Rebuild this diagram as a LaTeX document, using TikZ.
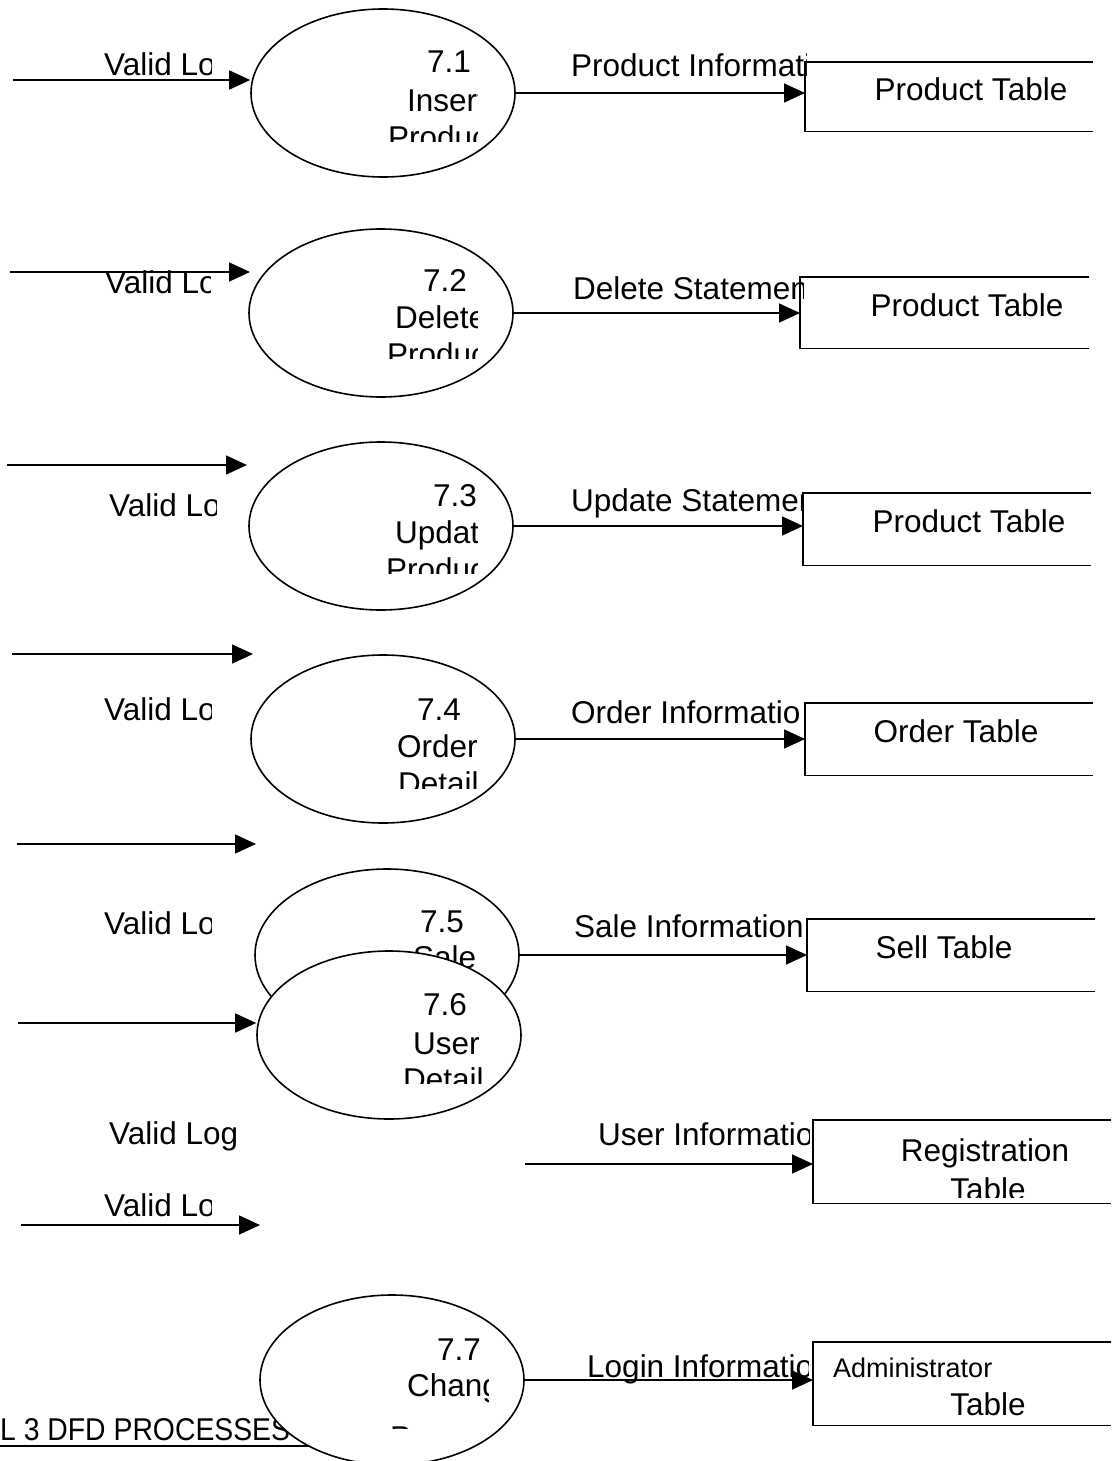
\documentclass[tikz,border=0pt]{standalone}
\usepackage{fontspec}
\setmainfont{Liberation Sans}
\usetikzlibrary{arrows.meta,shapes.geometric}
\tikzset{
  flow/.style={line width=1.6pt, -{Triangle[length=21pt,width=19pt]}},
  proc/.style={ellipse, draw, line width=1.6pt, fill=white, minimum width=264pt, minimum height=168pt, inner sep=0pt},
  txt/.style={inner sep=0pt, font=\fontsize{31.5}{38}\selectfont},
  smalltxt/.style={inner sep=0pt, font=\fontsize{27}{32}\selectfont},
  storebox/.style={rectangle, draw=none, inner sep=0pt, anchor=north west},
  storeline/.style={line width=1.6pt},
}
\newcommand{\ctxt}[7][txt]{\begin{scope}\clip (#3-30,#4-45) rectangle (#6,#7);\node[#1,anchor=base west] (#2) at (#3,#4) {#5};\end{scope}}
\begin{document}
\begin{tikzpicture}[x=1pt,y=-1pt]
\useasboundingbox (0,0) rectangle (1111,1461);
\fill[white] (0,0) rectangle (1111,1461);

% caption
\node[txt, anchor=base west] (caption) at (0,1440) {\scalebox{0.9}[1]{L 3 DFD PROCESSES}};
\draw[line width=1.3pt] (0,1446) -- (330,1446);

% data stores
\node[storebox, minimum width=288pt, minimum height=69pt] (s1) at (805,62) {};
\node[storebox, minimum width=289pt, minimum height=71pt] (s2) at (800,277) {};
\node[storebox, minimum width=288pt, minimum height=72pt] (s3) at (803,493) {};
\node[storebox, minimum width=288pt, minimum height=72pt] (s4) at (805,703) {};
\node[storebox, minimum width=288pt, minimum height=72pt] (s5) at (807,919) {};
\node[storebox, minimum width=298pt, minimum height=83pt] (s6) at (813,1120) {};
\node[storebox, minimum width=298pt, minimum height=83pt] (s7) at (813,1342) {};
\foreach \s in {s1,s2,s3,s4,s5,s6,s7}
  \draw[storeline] (\s.north east) -- (\s.north west) -- (\s.south west) -- (\s.south east);

\node[txt, anchor=base] (t1) at (971,101) {Product Table};
\node[txt, anchor=base] (t2) at (967,316) {Product Table};
\node[txt, anchor=base] (t3) at (969,532) {Product Table};
\node[txt, anchor=base] (t4) at (956,742) {Order Table};
\node[txt, anchor=base] (t5) at (944,958) {Sell Table};
\node[txt, anchor=base] (t6a) at (985,1161) {Registration};
\begin{scope}\clip (820,1170) rectangle (1111,1197);
\node[txt, anchor=base] (t6b) at (988,1200) {Table};
\end{scope}
\node[smalltxt, anchor=base west] (t7a) at (833,1377) {Administrator};
\node[txt, anchor=base] (t7b) at (988,1415) {Table};

% left flows
\coordinate (a1) at (13,80);
\coordinate (a2) at (10,272);   \coordinate (b2) at (250,272);
\coordinate (a3) at (7,465);    \coordinate (b3) at (247,465);
\coordinate (a4) at (12,654);   \coordinate (b4) at (253,654);
\coordinate (a5) at (17,844);   \coordinate (b5) at (256,844);
\coordinate (a6) at (18,1023);
\coordinate (a7) at (21,1225);  \coordinate (b7) at (260,1225);

% processes
\node[proc] (p1) at (383,93) {};
\node[proc] (p2) at (381,313) {};
\node[proc] (p3) at (381,526) {};
\node[proc] (p4) at (383,739) {};

\draw[flow] (a1) -- (a1 -| p1.west);
\draw[flow] (a2) -- (b2);
\draw[flow] (a3) -- (b3);
\draw[flow] (a4) -- (b4);
\draw[flow] (a5) -- (b5);
\draw[flow] (a7) -- (b7);

\ctxt{n1a}{427}{73}{7.1}{477}{142}
\ctxt{n1b}{407}{112}{Insert}{477}{142}
\ctxt{n1c}{388}{149}{Product}{477}{142}

\ctxt{n2a}{423}{291}{7.2}{477}{358}
\ctxt{n2b}{395}{328}{Delete}{477}{358}
\ctxt{n2c}{387}{365}{Product}{477}{358}

\ctxt{n3a}{433}{506}{7.3}{477}{573}
\ctxt{n3b}{395}{543}{Update}{477}{573}
\ctxt{n3c}{386}{580}{Product}{477}{573}

\ctxt{n4a}{417}{720}{7.4}{477}{788}
\ctxt{n4b}{397}{757}{Order}{477}{788}
\ctxt{n4c}{398}{794}{Details}{477}{788}

\node[proc, minimum height=172pt] (p5) at (387,955) {};
\ctxt{n5a}{420}{932}{7.5}{480}{1000}
\ctxt{n5b}{413}{968}{Sale}{480}{1000}

\node[proc] (p6) at (389,1035) {};
\draw[flow] (a6) -- (a6 -| p6.west);
\ctxt{n6a}{423}{1015}{7.6}{482}{1083}
\ctxt{n6b}{413}{1054}{User}{482}{1083}
\ctxt{n6c}{403}{1090}{Details}{482}{1083}

\node[proc, minimum height=170pt] (p7) at (392,1380) {};
\ctxt{n7a}{437}{1360}{7.7}{488}{1428}
\ctxt{n7b}{407}{1396}{Change}{488}{1428}
\ctxt{n7c}{390}{1448}{Password}{488}{1428}

% right flows
\coordinate (u6) at (525,1164);
\draw[flow] (p1.east) -- (p1.east -| s1.west);
\draw[flow] (p2.east) -- (p2.east -| s2.west);
\draw[flow] (p3.east) -- (p3.east -| s3.west);
\draw[flow] (p4.east) -- (p4.east -| s4.west);
\draw[flow] (p5.east) -- (p5.east -| s5.west);
\draw[flow] (u6) -- (u6 -| s6.west);
\draw[flow] (p7.east) -- (p7.east -| s7.west);

% left labels
\ctxt{l1}{104}{76}{Valid Login}{211}{100}
\ctxt{l2}{105}{293}{Valid Login}{210}{320}
\ctxt{l3}{109}{516}{Valid Login}{216}{540}
\ctxt{l4}{104}{720}{Valid Login}{211}{745}
\ctxt{l5}{104}{934}{Valid Login}{211}{960}
\ctxt{l6}{109}{1144}{Valid Login}{235}{1170}
\ctxt{l7}{104}{1216}{Valid Login}{211}{1240}

% right labels
\ctxt{r1}{571}{77}{Product Information}{806}{100}
\ctxt{r2}{573}{299}{Delete Statement}{803}{320}
\ctxt{r3}{571}{511}{Update Statement}{803}{530}
\ctxt{r4}{571}{723}{Order Information}{798}{745}
\ctxt{r5}{574}{937}{Sale Information}{808}{960}
\ctxt{r6}{598}{1145}{User Information}{809}{1165}
\ctxt{r7}{587}{1377}{Login Information}{808}{1400}
\end{tikzpicture}
\end{document}
